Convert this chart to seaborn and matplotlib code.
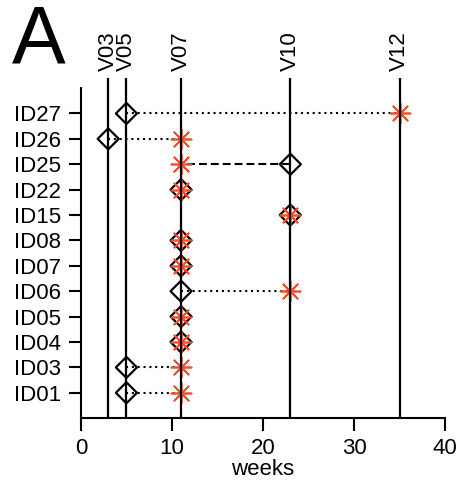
import numpy as np
import pandas as pd
import seaborn as sns
import matplotlib
matplotlib.use('Agg')
import matplotlib.pyplot as plt

# subjects, bottom to top
ids = ['ID01', 'ID03', 'ID04', 'ID05', 'ID06', 'ID07', 'ID08', 'ID15', 'ID22', 'ID25', 'ID26', 'ID27']
diamond_week = [5, 5, 11, 11, 11, 11, 11, 23, 11, 23, 3, 5]
star_week = [11, 11, 11, 11, 23, 11, 11, 23, 11, 11, 11, 35]
link = ['dotted', 'dotted', None, None, 'dotted', None, None, None, None, 'dashed', 'dotted', 'dotted']

visit_labels = ['V03', 'V05', 'V07', 'V10', 'V12']
visit_weeks = [3, 5, 11, 23, 35]

red = '#f0502a'

sns.set_style('ticks')
plt.rcParams['font.family'] = ['Liberation Sans', 'DejaVu Sans']
plt.rcParams['font.size'] = 16
for k in ['text.color', 'axes.labelcolor', 'xtick.color', 'ytick.color', 'axes.edgecolor']:
    plt.rcParams[k] = 'black'

df = pd.DataFrame({'id': ids, 'pos': np.arange(1, len(ids) + 1),
                   'diamond': diamond_week, 'star': star_week, 'link': link})

fig = plt.figure(figsize=(4.57, 4.84), dpi=100)
ax = fig.add_axes([0.177, 0.136, 0.797, 0.682])

# visit lines, poking out above the axes
ax.vlines(visit_weeks, 0, 13.4, colors='black', lw=1.6, clip_on=False, zorder=5)
for lab, w in zip(visit_labels, visit_weeks):
    ax.annotate(lab, xy=(w, 13.4), xytext=(0, 5), textcoords='offset points',
                rotation=90, ha='center', va='bottom', fontsize=16, annotation_clip=False)

# connectors between the two events
styles = {'dotted': (0, (1, 1.8)), 'dashed': (0, (3.8, 1.9))}
for _, r in df.iterrows():
    if r['link'] is None:
        continue
    ax.plot([r['diamond'], r['star']], [r['pos'], r['pos']], color='black', lw=1.5,
            linestyle=styles[r['link']], zorder=2)

sns.scatterplot(data=df, x='diamond', y='pos', marker='D', s=115, color='black',
                facecolor='none', edgecolor='black', linewidth=1.6, ax=ax, zorder=3)
sns.scatterplot(data=df, x='star', y='pos', marker=(8, 2, 0), s=210, color=red,
                linewidth=1.25, ax=ax, zorder=4)

ax.set_xlim(0, 40)
ax.set_ylim(0, 13)
ax.set_xticks([0, 10, 20, 30, 40])
ax.set_yticks(df['pos'])
ax.set_yticklabels(df['id'])
ax.set_xlabel('weeks', fontsize=16, labelpad=0)
ax.set_ylabel('')
ax.tick_params(axis='both', direction='out', length=9, width=1.5, pad=5, labelsize=16, color='black')
for s in ['left', 'bottom']:
    ax.spines[s].set_linewidth(1.5)
sns.despine(ax=ax)

fig.text(0.025, 0.992, 'A', fontsize=58, ha='left', va='top')

fig.savefig('out.png', dpi=100)
